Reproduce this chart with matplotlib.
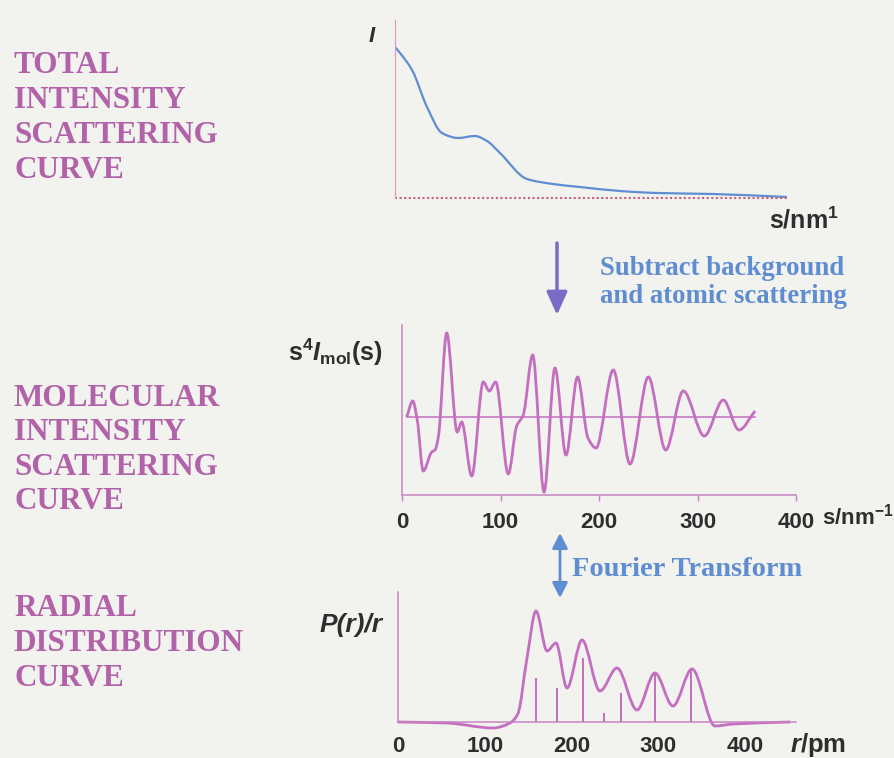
import numpy as np
import matplotlib
matplotlib.use('Agg')
import matplotlib.pyplot as plt
from matplotlib.path import Path
from matplotlib.patches import PathPatch

# total intensity curve (s in nm^-1, arbitrary intensity)
s_total = [0, 5.1, 17.3, 32.5, 47.7, 64, 81.2, 93.4, 106.6, 134, 160.4, 187.8, 228.4, 266, 322.8, 398]
i_total = [151, 145, 128, 91, 65, 60, 62, 57, 45, 19, 14, 11, 7, 5, 4, 1]

# molecular intensity s^4 Imol(s)
s_mol = [4.8, 10.9, 15.5, 21.6, 30.2, 33.5, 36.9, 45.4, 56.1, 60.6, 70.8, 82.5, 88.6, 95.1,
         107.9, 116.4, 123.1, 132.7, 144.2, 155.3, 166.5, 178.2, 188.8, 197.0, 214.5, 231.5,
         250.1, 267.7, 285.6, 306.9, 326.2, 342.1, 358.4]
i_mol = [0, 16, -3, -54, -35, -33, -20, 84, -15, -5, -59, 35, 26, 35,
         -57, -9, 2, 62, -75, 49, -38, 40, -21, -31, 47, -47,
         40, -33, 26, -19, 17, -13, 6]

# radial distribution P(r)/r
r_rdc = [0, 56.5, 109.4, 129, 138, 148.6, 159, 171.7, 182, 194.7, 212, 232.7, 252.3,
         275.3, 296, 316.8, 338.7, 365.2, 386, 452]
p_rdc = [0, -1, -6, -1, 8, 64, 111, 71, 79, 34, 82, 31, 54, 12, 49, 16, 53, -4, -2, 0]

# distance sticks
r_dist = [159, 183.2, 213.1, 237.3, 256.9, 296.1, 337.6]
h_dist = [44, 34, 64, 9, 29, 49, 53]

mol_ticks = [0, 100, 200, 300, 400]
rdc_ticks = [0, 100, 200, 300, 400]

top_words = ["TOTAL", "INTENSITY", "SCATTERING", "CURVE"]
mid_words = ["MOLECULAR", "INTENSITY", "SCATTERING", "CURVE"]
bot_words = ["RADIAL", "DISTRIBUTION", "CURVE"]

BG = '#f2f2ef'
MAUVE = '#b262a8'
CURVE = '#c46ec0'
AXC = '#c884c2'
BLUE = '#5f8dd2'
TXT = '#2e2e2e'

plt.rcParams['font.family'] = ['Liberation Sans', 'DejaVu Sans']
plt.rcParams['font.weight'] = 'bold'
plt.rcParams['mathtext.fontset'] = 'custom'
plt.rcParams['mathtext.rm'] = 'Liberation Sans:bold'
plt.rcParams['mathtext.it'] = 'Liberation Sans:italic:bold'
plt.rcParams['mathtext.bf'] = 'Liberation Sans:bold'

W, H = 894, 758
fig = plt.figure(figsize=(W / 100, H / 100), dpi=100, facecolor=BG)


def px_axes(l, t, r, b):
    a = fig.add_axes([l / W, 1 - b / H, (r - l) / W, (b - t) / H])
    a.patch.set_alpha(0)
    for sp in ['top', 'right']:
        a.spines[sp].set_visible(False)
    a.set_yticks([])
    return a


def ftext(x, y, s, **kw):
    return fig.text(x / W, 1 - y / H, s, **kw)


def smooth_line(ax, x, y, **kw):
    # monotone cubic through the read-off points, drawn as bezier path
    x = np.asarray(x, float)
    y = np.asarray(y, float)
    h = np.diff(x)
    d = np.diff(y) / h
    m = np.zeros_like(y)
    m[0], m[-1] = d[0], d[-1]
    for i in range(1, len(x) - 1):
        if d[i - 1] * d[i] <= 0:
            m[i] = 0
        else:
            w1 = 2 * h[i] + h[i - 1]
            w2 = h[i] + 2 * h[i - 1]
            m[i] = (w1 + w2) / (w1 / d[i - 1] + w2 / d[i])
    verts = [(x[0], y[0])]
    codes = [Path.MOVETO]
    for i in range(len(x) - 1):
        verts += [(x[i] + h[i] / 3, y[i] + m[i] * h[i] / 3),
                  (x[i + 1] - h[i] / 3, y[i + 1] - m[i + 1] * h[i] / 3),
                  (x[i + 1], y[i + 1])]
        codes += [Path.CURVE4] * 3
    ax.add_patch(PathPatch(Path(verts, codes), fill=False, **kw))


# top panel
ax1 = px_axes(395, 20, 788, 198)
ax1.set_xlim(0, 399)
ax1.set_ylim(0, 178)
ax1.spines['bottom'].set_visible(False)
ax1.spines['left'].set_color('#dca0c4')
ax1.spines['left'].set_linewidth(0.9)
ax1.set_xticks([])
ax1.axhline(0, color='#c8607a', lw=1.5, ls=(0, (1, 1.2)), clip_on=False)
smooth_line(ax1, s_total, i_total, color=BLUE, lw=1.6)

# middle panel
ax2 = px_axes(402, 325, 796, 495)
ax2.set_xlim(0, 400)
ax2.set_ylim(-78, 92)
for sp in ['left', 'bottom']:
    ax2.spines[sp].set_color(AXC)
    ax2.spines[sp].set_linewidth(1.1)
ax2.plot([s_mol[0], s_mol[-1]], [0, 0], color=CURVE, lw=1.1)
smooth_line(ax2, s_mol, i_mol, color=CURVE, lw=2.0)
ax2.set_xticks(mol_ticks)
ax2.set_xticklabels([str(t) for t in mol_ticks])
ax2.tick_params(axis='x', length=4, width=1, color=AXC, pad=8, labelsize=16, labelcolor=TXT)

# bottom panel
ax3 = px_axes(398, 592, 796, 722)
ax3.set_xlim(0, 458.5)
ax3.set_ylim(0, 130)
for sp in ['left', 'bottom']:
    ax3.spines[sp].set_color(AXC)
    ax3.spines[sp].set_linewidth(1.1)
smooth_line(ax3, r_rdc, p_rdc, color=CURVE, lw=2.0, clip_on=False)
ax3.vlines(r_dist, 0, h_dist, color=CURVE, lw=1.4)
ax3.set_xticks(rdc_ticks)
ax3.set_xticklabels([str(t) for t in rdc_ticks])
ax3.tick_params(axis='x', length=0, pad=10, labelsize=16, labelcolor=TXT)

# axis labels
ftext(372, 36, 'I', fontsize=16, style='italic', color=TXT, ha='center', va='center')
ftext(804, 220, r'$\mathrm{s/nm}^{\mathrm{1}}$', fontsize=18, color=TXT, ha='center', va='center')
ftext(383, 352, r'$\mathrm{s}^{4}I_{\mathrm{mol}}(\mathrm{s})$', fontsize=18, color=TXT, ha='right', va='center')
ftext(822, 517, r'$\mathrm{s/nm}^{\mathrm{-1}}$', fontsize=16, color=TXT, ha='left', va='center')
ftext(383, 625, 'P(r)/r', fontsize=19, style='italic', color=TXT, ha='right', va='center')
ftext(790, 745, r'$r\mathrm{/pm}$', fontsize=18.5, color=TXT, ha='left', va='center')

# side captions
for words, ys in [(top_words, [63, 98, 133, 168]),
                  (mid_words, [396, 430, 465, 499]),
                  (bot_words, [606, 641, 676])]:
    for w, y in zip(words, ys):
        ftext(14, y + 10, w, fontsize=22.5, family='Liberation Serif', weight='bold',
              color=MAUVE, ha='left', va='baseline')

# process arrows and notes
ax1.annotate('', xy=(557, H - 315), xycoords='figure pixels',
             xytext=(557, H - 243), textcoords='figure pixels', annotation_clip=False,
             arrowprops=dict(arrowstyle='-|>,head_length=1.0,head_width=0.45', mutation_scale=14,
                             lw=2.5, color='#7a6cc6', shrinkA=0, shrinkB=0))
ax1.annotate('', xy=(560, H - 598), xycoords='figure pixels',
             xytext=(560, H - 533), textcoords='figure pixels', annotation_clip=False,
             arrowprops=dict(arrowstyle='<|-|>,head_length=0.65,head_width=0.33', mutation_scale=14,
                             lw=2.0, color=BLUE, shrinkA=0, shrinkB=0))
ftext(600, 275, 'Subtract background', fontsize=19.3, family='Liberation Serif', weight='bold',
      color=BLUE, ha='left', va='baseline')
ftext(600, 303, 'and atomic scattering', fontsize=19.3, family='Liberation Serif', weight='bold',
      color=BLUE, ha='left', va='baseline')
ftext(572, 576, 'Fourier Transform', fontsize=20.5, family='Liberation Serif', weight='bold',
      color=BLUE, ha='left', va='baseline')

fig.savefig('out.png', dpi=100, facecolor=BG)
